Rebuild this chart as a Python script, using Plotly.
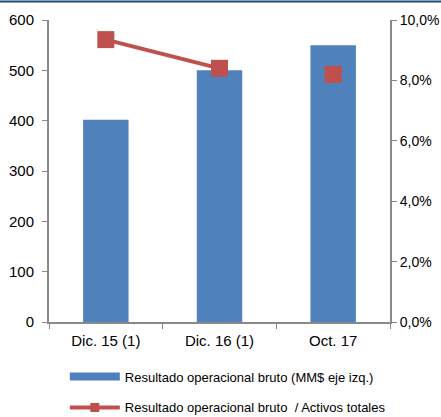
import plotly.graph_objects as go

categories = ["Dic. 15 (1)", "Dic. 16 (1)", "Oct. 17"]
resultado_mm = [402, 500, 550]
ratio_pct = [9.35, 8.4, 8.2]
left_ticks = [0, 100, 200, 300, 400, 500, 600]
right_ticks = [0, 2, 4, 6, 8, 10]
right_ticktext = ["0,0%", "2,0%", "4,0%", "6,0%", "8,0%", "10,0%"]

bar_name = "Resultado operacional bruto (MM$ eje izq.)"
line_name = "Resultado operacional bruto  / Activos totales"

axis_col = "#898989"
bar_col = "#4F81BD"
line_col = "#C0504D"

fig = go.Figure()
fig.add_trace(go.Bar(x=categories, y=resultado_mm, name=bar_name, showlegend=False,
                     marker=dict(color=bar_col, line=dict(width=0)), yaxis="y"))
fig.add_trace(go.Scatter(x=categories[:2], y=ratio_pct[:2], name=line_name,
                         mode="lines+markers", yaxis="y2", showlegend=False,
                         line=dict(color=line_col, width=4),
                         marker=dict(symbol="square", size=17, color=line_col)))
fig.add_trace(go.Scatter(x=categories[2:], y=ratio_pct[2:], name=line_name,
                         mode="markers", yaxis="y2", showlegend=False,
                         marker=dict(symbol="square", size=17, color=line_col)))
# legend entries
fig.add_trace(go.Scatter(x=[None], y=[None], name=bar_name, mode="lines",
                         legendgroup="a", line=dict(color=bar_col, width=8)))
fig.add_trace(go.Scatter(x=[None], y=[None], name=line_name, mode="lines+markers",
                         legendgroup="b", line=dict(color=line_col, width=4),
                         marker=dict(symbol="square", size=9, color=line_col)))

fig.update_layout(
    width=441, height=417,
    margin=dict(l=49, r=51, t=20, b=95, autoexpand=False),
    paper_bgcolor="white", plot_bgcolor="white",
    font=dict(family="Liberation Sans, Arial, sans-serif", size=15, color="#000000"),
    bargap=0.6,
    showlegend=True,
    legend=dict(xref="container", yref="container", x=0.147, y=0.133,
                xanchor="left", yanchor="top",
                font=dict(size=13), itemwidth=50, traceorder="grouped",
                tracegroupgap=11, bgcolor="rgba(0,0,0,0)"),
    xaxis=dict(type="category", showline=True, linecolor=axis_col, linewidth=2,
               ticks="outside", tickson="boundaries", ticklen=5, tickcolor=axis_col,
               tickwidth=1, showgrid=False, zeroline=False, automargin=False,
               ticklabelstandoff=4),
    yaxis=dict(range=[0, 600], tickvals=left_ticks, showline=True, linecolor=axis_col,
               linewidth=2, ticks="outside", ticklen=5, tickcolor=axis_col,
               showgrid=False, zeroline=False, automargin=False,
               ticklabelstandoff=5),
    yaxis2=dict(range=[0, 10], tickvals=right_ticks, ticktext=right_ticktext,
                overlaying="y", side="right", showline=True, linecolor=axis_col,
                linewidth=2, ticks="outside", ticklen=5, tickcolor=axis_col,
                tickfont=dict(size=14),
                showgrid=False, zeroline=False, automargin=False),
    shapes=[dict(type="line", xref="paper", yref="paper", x0=-0.2, x1=1.2,
                 y0=1.061, y1=1.061, line=dict(color="#1F497D", width=2))],
)

fig.write_html("out.html", config={"displayModeBar": False},
               post_script="document.body.style.margin='0';document.body.style.overflow='hidden';")
